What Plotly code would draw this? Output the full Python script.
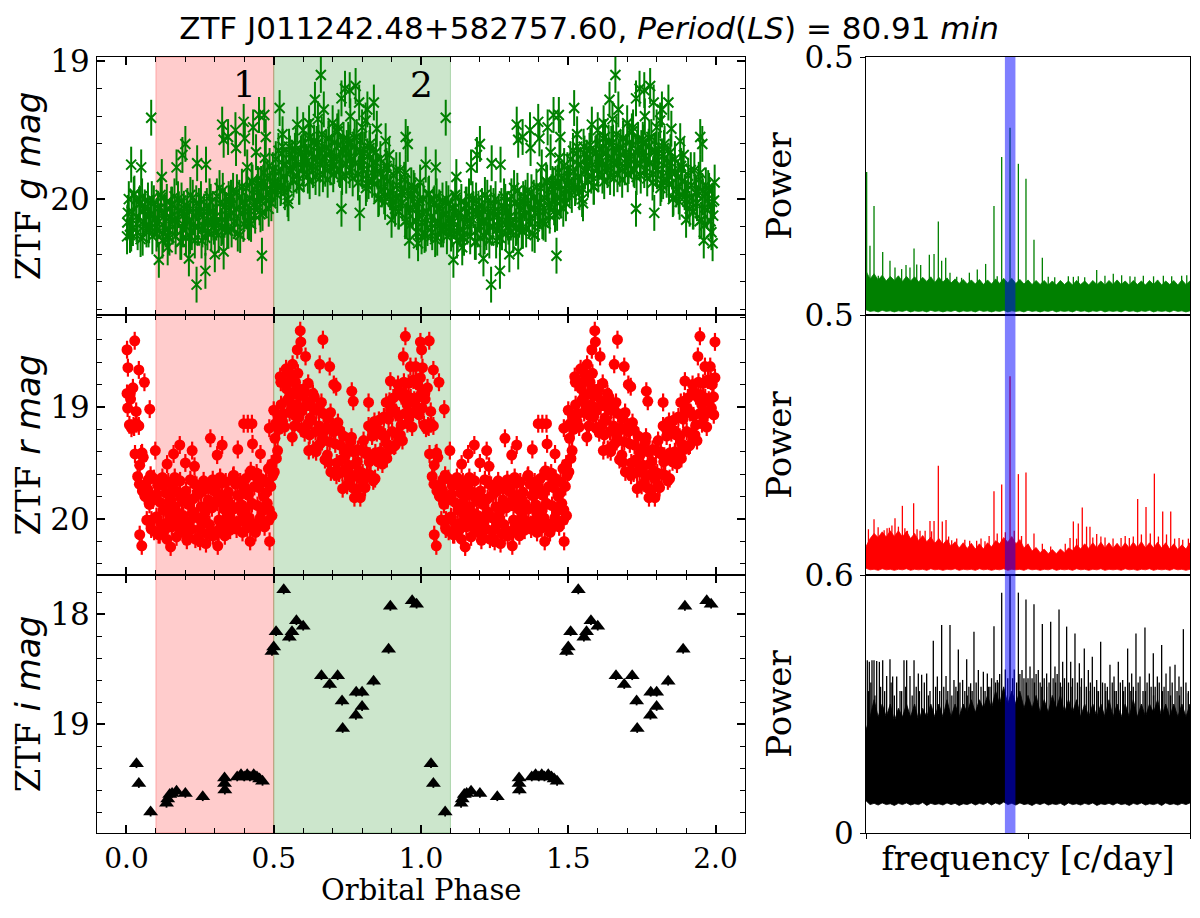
import numpy as np
import plotly.graph_objects as go

# ---------------------------------------------------------------- data
# ZTF g band: orbital phase (one cycle) and magnitude
g_phase = [
    0.003, 0.008, 0.012, 0.018, 0.022, 0.027, 0.033, 0.038, 0.043, 0.048,
    0.053, 0.057, 0.062, 0.068, 0.073, 0.077, 0.083, 0.088, 0.093, 0.098,
    0.102, 0.107, 0.112, 0.118, 0.122, 0.128, 0.133, 0.137, 0.142, 0.148,
    0.152, 0.157, 0.163, 0.167, 0.172, 0.178, 0.183, 0.187, 0.192, 0.197,
    0.202, 0.207, 0.213, 0.217, 0.222, 0.228, 0.232, 0.237, 0.243, 0.248,
    0.253, 0.258, 0.262, 0.268, 0.273, 0.277, 0.282, 0.288, 0.292, 0.297,
    0.302, 0.307, 0.313, 0.318, 0.322, 0.327, 0.333, 0.338, 0.342, 0.347,
    0.352, 0.357, 0.362, 0.367, 0.373, 0.378, 0.383, 0.387, 0.392, 0.397,
    0.402, 0.407, 0.412, 0.418, 0.423, 0.428, 0.432, 0.437, 0.443, 0.448,
    0.452, 0.457, 0.462, 0.467, 0.472, 0.478, 0.483, 0.488, 0.492, 0.497,
    0.502, 0.507, 0.512, 0.517, 0.523, 0.528, 0.533, 0.538, 0.542, 0.547,
    0.552, 0.557, 0.563, 0.567, 0.572, 0.578, 0.583, 0.587, 0.592, 0.598,
    0.602, 0.607, 0.612, 0.618, 0.622, 0.628, 0.633, 0.637, 0.642, 0.648,
    0.652, 0.657, 0.663, 0.667, 0.672, 0.678, 0.683, 0.687, 0.692, 0.697,
    0.702, 0.707, 0.713, 0.717, 0.722, 0.728, 0.732, 0.737, 0.743, 0.748,
    0.753, 0.758, 0.762, 0.768, 0.773, 0.777, 0.782, 0.788, 0.792, 0.797,
    0.802, 0.807, 0.813, 0.818, 0.822, 0.827, 0.833, 0.838, 0.842, 0.847,
    0.852, 0.857, 0.862, 0.867, 0.873, 0.878, 0.883, 0.887, 0.892, 0.897,
    0.902, 0.907, 0.912, 0.918, 0.923, 0.928, 0.932, 0.937, 0.943, 0.948,
    0.952, 0.957, 0.962, 0.967, 0.972, 0.978, 0.983, 0.988, 0.992, 0.997,
    0.005, 0.016, 0.025, 0.034, 0.046, 0.055, 0.064, 0.075, 0.086, 0.095,
    0.105, 0.116, 0.125, 0.134, 0.146, 0.155, 0.164, 0.175, 0.186, 0.195,
    0.205, 0.216, 0.225, 0.234, 0.246, 0.255, 0.264, 0.275, 0.286, 0.295,
    0.305, 0.316, 0.325, 0.334, 0.346, 0.355, 0.364, 0.375, 0.386, 0.395,
    0.405, 0.416, 0.425, 0.434, 0.446, 0.455, 0.464, 0.475, 0.486, 0.495,
    0.505, 0.516, 0.525, 0.534, 0.546, 0.555, 0.564, 0.575, 0.586, 0.595,
    0.605, 0.616, 0.625, 0.634, 0.646, 0.655, 0.664, 0.675, 0.686, 0.695,
    0.705, 0.716, 0.725, 0.734, 0.746, 0.755, 0.764, 0.775, 0.786, 0.795,
    0.805, 0.816, 0.825, 0.834, 0.846, 0.855, 0.864, 0.875, 0.886, 0.895,
    0.905, 0.916, 0.925, 0.934, 0.946, 0.955, 0.964, 0.975, 0.986, 0.995,
]
g_mag = [
    20.17, 20.00, 20.26, 20.09, 20.21, 19.96, 20.13, 20.24, 20.04, 20.29,
    19.98, 20.16, 20.06, 20.22, 20.01, 20.19, 20.11, 20.27, 20.03, 20.14,
    20.25, 20.07, 20.16, 19.99, 20.30, 20.10, 20.22, 20.02, 20.27, 20.13,
    20.04, 20.20, 19.98, 20.27, 20.14, 20.08, 20.31, 20.01, 20.22, 20.11,
    20.28, 20.05, 20.17, 19.97, 20.24, 20.12, 20.30, 20.03, 20.20, 20.09,
    20.00, 20.22, 20.12, 20.28, 20.05, 20.17, 19.98, 20.25, 20.09, 20.20,
    20.13, 19.98, 20.26, 20.03, 20.21, 19.94, 20.15, 20.08, 20.23, 20.00,
    20.03, 20.22, 19.94, 20.16, 20.07, 20.25, 19.99, 20.10, 19.91, 20.18,
    20.09, 19.92, 20.16, 19.99, 20.18, 19.88, 20.04, 20.12, 19.95, 19.90,
    20.06, 19.89, 20.10, 19.81, 19.99, 19.85, 20.07, 19.93, 20.03, 19.79,
    19.88, 19.71, 19.97, 19.80, 19.92, 19.67, 19.84, 19.95, 19.75, 20.00,
    19.62, 19.80, 19.70, 19.86, 19.65, 19.83, 19.75, 19.91, 19.67, 19.78,
    19.82, 19.64, 19.73, 19.56, 19.87, 19.67, 19.79, 19.59, 19.84, 19.70,
    19.59, 19.75, 19.53, 19.82, 19.69, 19.63, 19.86, 19.56, 19.77, 19.66,
    19.82, 19.59, 19.71, 19.51, 19.78, 19.66, 19.84, 19.57, 19.74, 19.63,
    19.57, 19.79, 19.69, 19.85, 19.62, 19.74, 19.55, 19.82, 19.66, 19.77,
    19.79, 19.64, 19.92, 19.69, 19.87, 19.60, 19.81, 19.74, 19.89, 19.66,
    19.80, 19.99, 19.71, 19.93, 19.84, 20.02, 19.76, 19.87, 19.68, 19.95,
    20.00, 19.83, 20.07, 19.90, 20.09, 19.79, 19.95, 20.03, 19.86, 19.81,
    20.15, 19.98, 20.19, 19.90, 20.08, 19.94, 20.16, 20.02, 20.12, 19.88,
    20.10, 20.25, 19.97, 20.18, 20.03, 20.28, 20.07, 20.22, 20.00, 20.15,
    20.22, 19.97, 20.25, 20.10, 20.28, 20.04, 20.15, 20.00, 20.31, 20.07,
    20.12, 20.27, 19.99, 20.20, 20.05, 20.30, 20.09, 20.24, 20.02, 20.17,
    20.17, 19.92, 20.20, 20.05, 20.23, 19.99, 20.10, 19.95, 20.26, 20.02,
    20.03, 20.17, 19.87, 20.06, 19.89, 20.11, 19.88, 20.01, 19.76, 19.89,
    19.92, 19.65, 19.91, 19.75, 19.92, 19.67, 19.77, 19.61, 19.91, 19.66,
    19.69, 19.83, 19.55, 19.76, 19.60, 19.85, 19.64, 19.78, 19.56, 19.71,
    19.76, 19.51, 19.79, 19.64, 19.83, 19.59, 19.71, 19.56, 19.88, 19.65,
    19.72, 19.89, 19.63, 19.86, 19.73, 20.00, 19.81, 19.98, 19.78, 19.95,
    20.02, 19.79, 20.09, 19.96, 20.16, 19.94, 20.06, 19.92, 20.24, 20.01,
]
g_out_phase = [
    0.016, 0.050, 0.084, 0.120, 0.170, 0.190, 0.200, 0.240, 0.270, 0.325,
    0.330, 0.345, 0.370, 0.372, 0.398, 0.402, 0.410, 0.430, 0.450, 0.468,
    0.473, 0.520, 0.530, 0.580, 0.640, 0.660, 0.670, 0.650, 0.730, 0.742,
    0.758, 0.778, 0.790, 0.818, 0.840, 0.812, 0.850, 0.948, 0.955,
    0.238, 0.268, 0.212, 0.460, 0.330, 0.730, 0.792, 0.550, 0.110, 0.002,
    0.140, 0.300, 0.900, 0.960, 0.990,
    0.600, 0.620, 0.700, 0.720, 0.760, 0.800, 0.880, 0.530, 0.470, 0.440,
]
g_out_mag = [
    19.75, 19.77, 19.41, 19.84, 19.77, 19.68, 19.60, 19.74, 19.75, 19.46,
    19.57, 19.55, 19.50, 19.63, 19.44, 19.56, 19.77, 19.48, 19.39, 19.39,
    19.55, 19.34, 19.53, 19.46, 19.28, 19.10, 19.35, 19.42, 19.27, 19.20,
    19.21, 19.18, 19.30, 19.35, 19.30, 19.43, 19.49, 19.55, 19.60,
    20.62, 20.52, 20.43, 20.41, 20.38, 20.07, 20.10, 20.03, 20.44, 20.27,
    20.35, 20.40, 20.15, 20.30, 20.32,
    19.50, 19.45, 19.45, 19.48, 19.40, 19.48, 19.58, 19.62, 19.70, 19.66,
]
g_err = 0.13

# ZTF r band
r_phase = [
    0.002, 0.005, 0.010, 0.014, 0.017, 0.022, 0.026, 0.029, 0.034, 0.038,
    0.042, 0.045, 0.050, 0.054, 0.057, 0.062, 0.066, 0.069, 0.074, 0.078,
    0.082, 0.085, 0.090, 0.094, 0.097, 0.102, 0.106, 0.109, 0.114, 0.118,
    0.122, 0.125, 0.130, 0.134, 0.137, 0.142, 0.146, 0.149, 0.154, 0.158,
    0.162, 0.165, 0.170, 0.174, 0.177, 0.182, 0.186, 0.189, 0.194, 0.198,
    0.202, 0.205, 0.210, 0.214, 0.217, 0.222, 0.226, 0.229, 0.234, 0.238,
    0.242, 0.245, 0.250, 0.254, 0.257, 0.262, 0.266, 0.269, 0.274, 0.278,
    0.282, 0.285, 0.290, 0.294, 0.297, 0.302, 0.306, 0.309, 0.314, 0.318,
    0.322, 0.325, 0.330, 0.334, 0.337, 0.342, 0.346, 0.349, 0.354, 0.358,
    0.362, 0.365, 0.370, 0.374, 0.377, 0.382, 0.386, 0.389, 0.394, 0.398,
    0.402, 0.405, 0.410, 0.414, 0.417, 0.422, 0.426, 0.429, 0.434, 0.438,
    0.442, 0.445, 0.450, 0.454, 0.457, 0.462, 0.466, 0.469, 0.474, 0.478,
    0.482, 0.485, 0.490, 0.494, 0.497, 0.502, 0.506, 0.509, 0.514, 0.518,
    0.522, 0.525, 0.530, 0.534, 0.537, 0.542, 0.546, 0.549, 0.554, 0.558,
    0.562, 0.565, 0.570, 0.574, 0.577, 0.582, 0.586, 0.589, 0.594, 0.598,
    0.602, 0.605, 0.610, 0.614, 0.617, 0.622, 0.626, 0.629, 0.634, 0.638,
    0.642, 0.645, 0.650, 0.654, 0.657, 0.662, 0.666, 0.669, 0.674, 0.678,
    0.682, 0.685, 0.690, 0.694, 0.697, 0.702, 0.706, 0.709, 0.714, 0.718,
    0.722, 0.725, 0.730, 0.734, 0.737, 0.742, 0.746, 0.749, 0.754, 0.758,
    0.762, 0.765, 0.770, 0.774, 0.777, 0.782, 0.786, 0.789, 0.794, 0.798,
    0.802, 0.805, 0.810, 0.814, 0.817, 0.822, 0.826, 0.829, 0.834, 0.838,
    0.842, 0.845, 0.850, 0.854, 0.857, 0.862, 0.866, 0.869, 0.874, 0.878,
    0.882, 0.885, 0.890, 0.894, 0.897, 0.902, 0.906, 0.909, 0.914, 0.918,
    0.922, 0.925, 0.930, 0.934, 0.937, 0.942, 0.946, 0.949, 0.954, 0.958,
    0.962, 0.965, 0.970, 0.974, 0.977, 0.982, 0.986, 0.989, 0.994, 0.998,
    0.004, 0.013, 0.024, 0.033, 0.044, 0.053, 0.064, 0.073, 0.084, 0.093,
    0.104, 0.113, 0.124, 0.133, 0.144, 0.153, 0.164, 0.173, 0.184, 0.193,
    0.204, 0.213, 0.224, 0.233, 0.244, 0.253, 0.264, 0.273, 0.284, 0.293,
    0.304, 0.313, 0.324, 0.333, 0.344, 0.353, 0.364, 0.373, 0.384, 0.393,
    0.404, 0.413, 0.424, 0.433, 0.444, 0.453, 0.464, 0.473, 0.484, 0.493,
    0.504, 0.513, 0.524, 0.533, 0.544, 0.553, 0.564, 0.573, 0.584, 0.593,
    0.604, 0.613, 0.624, 0.633, 0.644, 0.653, 0.664, 0.673, 0.684, 0.693,
    0.704, 0.713, 0.724, 0.733, 0.744, 0.753, 0.764, 0.773, 0.784, 0.793,
    0.804, 0.813, 0.824, 0.833, 0.844, 0.853, 0.864, 0.873, 0.884, 0.893,
    0.904, 0.913, 0.924, 0.933, 0.944, 0.953, 0.964, 0.973, 0.984, 0.993,
]
r_mag = [
    18.88, 18.65, 19.16, 18.93, 19.19, 18.83, 19.18, 19.42, 19.15, 19.62,
    19.17, 19.52, 19.42, 19.75, 19.45, 19.79, 19.70, 20.01, 19.65, 19.87,
    19.61, 20.01, 19.83, 20.11, 19.79, 19.98, 19.70, 20.14, 19.85, 20.05,
    19.63, 19.92, 20.10, 19.77, 20.18, 19.67, 19.96, 19.80, 20.07, 19.72,
    20.02, 19.89, 20.16, 19.76, 19.95, 19.66, 20.04, 19.84, 20.12, 19.80,
    19.75, 20.13, 19.87, 20.03, 19.65, 20.09, 19.82, 19.94, 20.18, 19.70,
    19.99, 19.78, 20.09, 19.89, 20.04, 19.66, 19.95, 19.73, 20.13, 19.83,
    20.05, 19.70, 19.90, 20.15, 19.75, 19.73, 20.11, 19.85, 20.01, 19.63,
    20.06, 19.79, 19.91, 20.15, 19.67, 19.97, 19.76, 20.07, 19.87, 20.02,
    19.62, 19.91, 19.69, 20.09, 19.79, 20.02, 19.67, 19.87, 20.12, 19.72,
    19.92, 19.64, 20.08, 19.79, 19.99, 19.57, 19.86, 20.04, 19.71, 20.12,
    19.59, 19.88, 19.72, 19.99, 19.64, 19.93, 19.80, 20.07, 19.67, 19.86,
    19.55, 19.92, 19.71, 19.97, 19.61, 19.58, 19.15, 19.46, 19.07, 19.20,
    18.73, 18.98, 19.13, 18.78, 19.18, 18.66, 18.94, 18.78, 19.05, 18.71,
    19.01, 18.89, 19.17, 18.78, 18.98, 18.70, 19.09, 18.90, 19.19, 18.88,
    18.84, 19.23, 18.99, 19.16, 18.79, 19.25, 18.99, 19.12, 19.38, 18.91,
    19.22, 19.03, 19.35, 19.17, 19.33, 18.96, 19.27, 19.06, 19.47, 19.19,
    19.43, 19.10, 19.31, 19.58, 19.19, 19.18, 19.58, 19.33, 19.50, 19.14,
    19.59, 19.34, 19.47, 19.73, 19.26, 19.58, 19.38, 19.70, 19.52, 19.68,
    19.31, 19.61, 19.40, 19.81, 19.51, 19.74, 19.38, 19.57, 19.81, 19.39,
    19.59, 19.30, 19.72, 19.42, 19.60, 19.17, 19.44, 19.61, 19.26, 19.66,
    19.13, 19.41, 19.23, 19.49, 19.12, 19.40, 19.25, 19.51, 19.09, 19.27,
    18.96, 19.33, 19.11, 19.38, 19.04, 19.22, 18.92, 19.35, 19.05, 19.24,
    18.80, 19.08, 19.25, 18.90, 19.30, 18.78, 19.06, 18.89, 19.15, 18.79,
    19.07, 18.92, 19.18, 18.76, 18.94, 18.64, 19.01, 18.80, 19.07, 18.74,
    19.01, 18.88, 19.17, 19.04, 19.69, 19.41, 19.80, 19.74, 20.09, 19.64,
    19.78, 20.14, 19.70, 20.04, 19.85, 19.93, 19.63, 20.07, 19.81, 19.97,
    20.10, 19.83, 19.95, 19.69, 20.17, 19.76, 20.01, 19.88, 20.13, 19.65,
    19.76, 20.12, 19.68, 20.02, 19.83, 19.91, 19.61, 20.05, 19.79, 19.95,
    20.03, 19.76, 19.87, 19.61, 20.08, 19.67, 19.91, 19.77, 20.01, 19.51,
    19.28, 19.39, 18.78, 19.06, 18.84, 18.91, 18.62, 19.08, 18.84, 19.04,
    19.19, 18.95, 19.10, 18.88, 19.40, 19.02, 19.31, 19.21, 19.49, 19.05,
    19.22, 19.61, 19.21, 19.58, 19.43, 19.54, 19.27, 19.73, 19.49, 19.64,
    19.70, 19.40, 19.49, 19.20, 19.64, 19.20, 19.41, 19.25, 19.46, 18.95,
    19.01, 19.34, 18.86, 19.16, 18.93, 18.98, 18.64, 19.05, 18.77, 18.91,
]
r_out_phase = [
    0.028, 0.002, 0.042, 0.061, 0.079, 0.098, 0.138, 0.160, 0.181, 0.200,
    0.223, 0.231, 0.285, 0.308, 0.325, 0.378, 0.398, 0.412, 0.426, 0.428,
    0.455, 0.485, 0.500, 0.486, 0.590, 0.592, 0.580, 0.608, 0.667, 0.656,
    0.690, 0.704, 0.712, 0.765, 0.770, 0.822, 0.896, 0.947, 0.940, 0.998,
    0.619, 0.563,
    0.150, 0.205, 0.270, 0.310, 0.340, 0.352, 0.045, 0.052, 0.420, 0.250,
]
r_out_mag = [
    18.41, 18.49, 18.67, 18.78, 19.02, 19.39, 19.51, 19.42, 19.34, 19.50,
    19.39, 19.53, 19.28, 19.43, 19.34, 19.38, 19.15, 19.15, 19.15, 19.33,
    19.42, 19.19, 19.03, 20.20, 18.32, 18.42, 18.49, 18.55, 18.40, 18.62,
    18.64, 18.80, 18.82, 18.86, 18.95, 18.96, 18.77, 18.37, 18.55, 18.42,
    19.39, 19.27,
    20.25, 20.19, 20.22, 20.24, 20.10, 20.10, 20.14, 20.24, 20.20, 20.20,
]
r_err = 0.08

# ZTF i band
i_phase = [
    0.034, 0.042, 0.082, 0.136, 0.140, 0.147, 0.155, 0.170, 0.200, 0.259,
    0.333, 0.333, 0.334, 0.376, 0.389, 0.400, 0.410, 0.419, 0.432, 0.443,
    0.452, 0.462, 0.494, 0.500, 0.508, 0.534, 0.553, 0.562, 0.577, 0.600,
    0.662, 0.690, 0.717, 0.732, 0.734, 0.779, 0.780, 0.800, 0.800, 0.839,
    0.890, 0.896, 0.970, 0.985,
]
i_mag = [
    19.36, 19.54, 19.80, 19.72, 19.68, 19.64, 19.63, 19.61, 19.63, 19.66,
    19.49, 19.54, 19.60, 19.48, 19.46, 19.48, 19.46, 19.48, 19.46, 19.48,
    19.50, 19.52, 18.34, 18.30, 18.16, 17.78, 18.21, 18.16, 18.06, 18.11,
    18.56, 18.64, 18.56, 18.79, 19.04, 18.92, 18.71, 18.71, 18.84, 18.61,
    18.32, 17.93, 17.88, 17.91,
]
i_err = 0.04

region1 = [0.1, 0.5]
region2 = [0.5, 1.1]

# Lomb-Scargle periodograms (frequency in c/day)
period_min = 80.91
band_halfwidth = 0.65

pg_freq = [0, 0.5, 1, 1.5, 2, 2.5, 3, 3.5, 4, 4.5, 5, 5.5, 6, 6.5, 7, 7.5, 8, 8.5, 9, 9.5,
           10, 10.5, 11, 11.5, 12, 12.5, 13, 13.5, 14, 14.5, 15, 15.5, 16, 16.5, 17, 17.5,
           18, 18.5, 19, 19.5, 20, 20.5, 21, 21.5, 22, 22.5, 23, 23.5, 24, 24.5, 25, 25.5,
           26, 26.5, 27, 27.5, 28, 28.5, 29, 29.5, 30, 30.5, 31, 31.5, 32, 32.5, 33, 33.5,
           34, 34.5, 35, 35.5, 36, 36.5, 37, 37.5, 38, 38.5, 39, 39.5, 40]

g_pow_lo = [0.010, 0.007, 0.008, 0.006, 0.009, 0.007, 0.008, 0.006, 0.008, 0.007,
            0.009, 0.006, 0.008, 0.007, 0.008, 0.006, 0.009, 0.007, 0.008, 0.006,
            0.008, 0.007, 0.009, 0.006, 0.008, 0.007, 0.008, 0.006, 0.009, 0.007,
            0.008, 0.006, 0.008, 0.007, 0.009, 0.006, 0.008, 0.007, 0.008, 0.006,
            0.009, 0.007, 0.008, 0.006, 0.008, 0.007, 0.009, 0.006, 0.008, 0.007,
            0.008, 0.006, 0.009, 0.007, 0.008, 0.006, 0.008, 0.007, 0.009, 0.006,
            0.008, 0.007, 0.008, 0.006, 0.009, 0.007, 0.008, 0.006, 0.008, 0.007,
            0.009, 0.006, 0.008, 0.007, 0.008, 0.006, 0.009, 0.007, 0.008, 0.006,
            0.008]
g_pow_hi = [0.085, 0.070, 0.080, 0.068, 0.077, 0.066, 0.075, 0.067, 0.076, 0.065,
            0.075, 0.066, 0.074, 0.064, 0.073, 0.065, 0.074, 0.063, 0.073, 0.064,
            0.072, 0.062, 0.070, 0.061, 0.069, 0.060, 0.068, 0.060, 0.069, 0.059,
            0.068, 0.060, 0.070, 0.061, 0.071, 0.062, 0.071, 0.061, 0.069, 0.060,
            0.068, 0.059, 0.067, 0.059, 0.067, 0.058, 0.066, 0.058, 0.067, 0.059,
            0.066, 0.058, 0.067, 0.059, 0.066, 0.058, 0.067, 0.059, 0.066, 0.058,
            0.067, 0.059, 0.068, 0.059, 0.066, 0.058, 0.067, 0.059, 0.066, 0.058,
            0.067, 0.059, 0.068, 0.058, 0.066, 0.059, 0.067, 0.058, 0.068, 0.059,
            0.066]
g_spike_f = [0.08, 0.49, 0.99, 1.52, 2.06, 2.96, 3.58, 4.40, 4.94, 5.43,
             5.93, 6.26, 6.75, 7.82, 8.40, 8.93, 9.34, 9.84, 10.37, 12.76,
             13.74, 14.77, 15.80, 16.75, 17.78, 18.81, 19.75, 20.74, 21.77, 24.98,
             26.21, 28.48, 30.53, 31.56, 32.59, 34.24, 36.71, 37.74, 38.97,
             11.2, 11.8, 16.2, 22.5, 23.3, 25.6, 27.0, 29.5, 33.2, 35.5, 39.6]
g_spike_p = [0.277, 0.134, 0.211, 0.076, 0.122, 0.105, 0.092, 0.089, 0.097, 0.092,
             0.129, 0.098, 0.097, 0.117, 0.118, 0.181, 0.105, 0.111, 0.082, 0.082,
             0.088, 0.099, 0.211, 0.306, 0.363, 0.293, 0.264, 0.146, 0.111, 0.075,
             0.075, 0.087, 0.080, 0.077, 0.075, 0.076, 0.076, 0.075, 0.076,
             0.074, 0.072, 0.075, 0.074, 0.073, 0.074, 0.073, 0.076, 0.074, 0.075, 0.077]

r_pow_lo = [0.013, 0.010, 0.011, 0.009, 0.012, 0.010, 0.011, 0.009, 0.011, 0.010,
            0.012, 0.009, 0.011, 0.010, 0.011, 0.009, 0.012, 0.010, 0.011, 0.009,
            0.011, 0.010, 0.012, 0.009, 0.011, 0.010, 0.011, 0.009, 0.012, 0.010,
            0.011, 0.009, 0.011, 0.010, 0.012, 0.009, 0.011, 0.010, 0.011, 0.009,
            0.012, 0.010, 0.011, 0.009, 0.011, 0.010, 0.012, 0.009, 0.011, 0.010,
            0.011, 0.009, 0.012, 0.010, 0.011, 0.009, 0.011, 0.010, 0.012, 0.009,
            0.011, 0.010, 0.011, 0.009, 0.012, 0.010, 0.011, 0.009, 0.011, 0.010,
            0.012, 0.009, 0.011, 0.010, 0.011, 0.009, 0.012, 0.010, 0.011, 0.009,
            0.011]
r_pow_hi = [0.055, 0.070, 0.080, 0.072, 0.083, 0.073, 0.085, 0.074, 0.085, 0.073,
            0.084, 0.070, 0.080, 0.066, 0.076, 0.064, 0.073, 0.061, 0.070, 0.059,
            0.068, 0.055, 0.064, 0.052, 0.062, 0.051, 0.061, 0.050, 0.060, 0.050,
            0.062, 0.054, 0.066, 0.060, 0.072, 0.063, 0.074, 0.060, 0.068, 0.052,
            0.060, 0.046, 0.053, 0.043, 0.050, 0.041, 0.049, 0.041, 0.050, 0.043,
            0.052, 0.047, 0.058, 0.050, 0.060, 0.051, 0.062, 0.052, 0.063, 0.052,
            0.062, 0.051, 0.061, 0.051, 0.062, 0.052, 0.063, 0.053, 0.064, 0.052,
            0.062, 0.052, 0.063, 0.052, 0.062, 0.050, 0.060, 0.049, 0.058, 0.050,
            0.062]
r_spike_f = [0.99, 2.24, 2.88, 3.58, 4.49, 5.11, 5.88, 6.67, 7.90, 8.40,
             8.93, 9.42, 9.88, 10.58, 13.66, 14.69, 15.80, 16.75, 17.78, 18.81,
             19.75, 20.74, 21.77, 25.19, 25.60, 26.21, 26.70, 27.23, 27.65, 28.48,
             29.51, 31.49, 32.51, 33.54, 34.57, 35.60, 36.63, 37.62, 38.65,
             0.3, 1.5, 2.6, 3.2, 4.0, 4.8, 6.3, 7.3, 8.1, 10.2,
             11.2, 12.2, 12.8, 14.2, 15.2, 16.2, 17.2, 18.3, 19.2, 22.8,
             24.6, 26.0, 28.0, 29.0, 30.5, 32.0, 33.0, 34.0, 35.1, 36.1,
             37.1, 38.1, 39.1, 39.8]
r_spike_p = [0.107, 0.086, 0.091, 0.109, 0.133, 0.085, 0.138, 0.085, 0.104, 0.104,
             0.210, 0.103, 0.106, 0.067, 0.066, 0.065, 0.161, 0.174, 0.382, 0.194,
             0.197, 0.080, 0.060, 0.071, 0.103, 0.099, 0.130, 0.093, 0.093, 0.079,
             0.072, 0.071, 0.071, 0.146, 0.131, 0.195, 0.122, 0.122, 0.071,
             0.088, 0.092, 0.090, 0.095, 0.093, 0.090, 0.088, 0.085, 0.084, 0.074,
             0.070, 0.068, 0.066, 0.070, 0.075, 0.080, 0.082, 0.085, 0.075, 0.055,
             0.060, 0.070, 0.072, 0.074, 0.070, 0.075, 0.074, 0.078, 0.080, 0.074,
             0.078, 0.070, 0.068, 0.070]

i_pow_lo = [0.075, 0.066, 0.069, 0.065, 0.070, 0.066, 0.068, 0.064, 0.069, 0.066,
            0.070, 0.065, 0.068, 0.066, 0.071, 0.064, 0.069, 0.066, 0.068, 0.065,
            0.070, 0.066, 0.069, 0.064, 0.068, 0.066, 0.070, 0.065, 0.069, 0.066,
            0.071, 0.065, 0.070, 0.066, 0.072, 0.066, 0.069, 0.065, 0.070, 0.066,
            0.068, 0.064, 0.069, 0.066, 0.070, 0.065, 0.068, 0.066, 0.069, 0.064,
            0.070, 0.066, 0.068, 0.065, 0.069, 0.066, 0.070, 0.064, 0.068, 0.066,
            0.069, 0.065, 0.070, 0.066, 0.068, 0.064, 0.069, 0.066, 0.070, 0.065,
            0.068, 0.066, 0.069, 0.064, 0.070, 0.066, 0.068, 0.065, 0.069, 0.066,
            0.070]
i_pow_hi = [0.24, 0.27, 0.31, 0.27, 0.30, 0.27, 0.30, 0.26, 0.29, 0.27,
            0.30, 0.27, 0.30, 0.26, 0.29, 0.27, 0.30, 0.27, 0.30, 0.27,
            0.31, 0.27, 0.30, 0.27, 0.30, 0.28, 0.31, 0.28, 0.31, 0.29,
            0.32, 0.29, 0.33, 0.30, 0.34, 0.30, 0.33, 0.30, 0.33, 0.29,
            0.32, 0.29, 0.32, 0.28, 0.31, 0.28, 0.32, 0.29, 0.32, 0.28,
            0.31, 0.28, 0.31, 0.27, 0.30, 0.27, 0.30, 0.27, 0.30, 0.27,
            0.31, 0.27, 0.30, 0.27, 0.30, 0.27, 0.31, 0.27, 0.30, 0.27,
            0.30, 0.28, 0.31, 0.27, 0.30, 0.27, 0.30, 0.27, 0.30, 0.27,
            0.30]
i_spike_f = [0.16, 0.41, 0.74, 0.99, 1.32, 1.65, 2.06, 2.55, 2.96, 3.29,
             3.79, 4.69, 5.02, 5.43, 5.93, 6.46, 6.87, 7.49, 8.31, 8.81,
             9.34, 9.88, 10.37, 10.86, 11.40, 11.93, 12.43, 12.92, 13.33, 13.87,
             14.49, 14.98, 15.80, 16.21, 16.75, 17.78, 18.81, 19.26, 19.75, 20.25,
             20.74, 21.27, 21.77, 22.30, 22.80, 23.33, 23.83, 24.28, 24.77, 25.27,
             25.80, 26.34, 26.95, 27.45, 27.94, 28.48, 28.97, 29.51, 30.12, 30.62,
             31.15, 31.69, 32.30, 32.80, 33.33, 33.83, 34.44, 34.98, 35.47, 35.97,
             36.50, 37.04, 37.53, 38.15, 38.64, 39.18, 39.79]
i_spike_p = [0.402, 0.398, 0.402, 0.402, 0.400, 0.398, 0.402, 0.365, 0.404, 0.364,
             0.364, 0.402, 0.402, 0.365, 0.402, 0.371, 0.368, 0.371, 0.447, 0.364,
             0.484, 0.365, 0.484, 0.356, 0.427, 0.356, 0.404, 0.348, 0.468, 0.379,
             0.375, 0.371, 0.481, 0.356, 0.559, 0.600, 0.559, 0.379, 0.543, 0.387,
             0.532, 0.379, 0.486, 0.371, 0.491, 0.387, 0.520, 0.398, 0.480, 0.398,
             0.464, 0.395, 0.429, 0.379, 0.410, 0.356, 0.445, 0.348, 0.391, 0.364,
             0.398, 0.356, 0.429, 0.371, 0.464, 0.364, 0.478, 0.371, 0.418, 0.364,
             0.437, 0.371, 0.387, 0.391, 0.364, 0.474, 0.325]
i_grass_f = [0.6, 1.8, 3.1, 4.2, 4.9, 6.2, 7.2, 7.9, 8.6, 9.6,
             10.1, 11.1, 11.6, 12.2, 12.7, 13.6, 14.2, 15.3, 15.5, 16.0,
             16.5, 17.2, 18.3, 19.0, 19.5, 20.0, 20.5, 21.0, 21.5, 22.0,
             22.6, 23.1, 23.6, 24.0, 24.5, 25.0, 25.5, 26.1, 26.6, 27.2,
             27.7, 28.2, 28.7, 29.2, 29.8, 30.4, 30.9, 31.4, 32.0, 32.5,
             33.0, 33.6, 34.2, 34.7, 35.2, 35.7, 36.2, 36.8, 37.3, 37.8,
             38.4, 38.9, 39.5,
             0.3, 1.1, 2.3, 3.5, 4.4, 5.7, 6.6, 7.7, 9.1, 10.6,
             11.3, 12.5, 13.1, 14.7, 15.1, 16.3, 17.5, 18.1, 18.6, 19.8,
             20.8, 21.7, 22.3, 23.4, 24.2, 25.3, 26.4, 27.5, 28.5, 29.6,
             30.7, 31.8, 32.7, 33.3, 34.5, 35.5, 36.6, 37.6, 38.7, 39.8]
i_grass_p = [0.35, 0.34, 0.35, 0.33, 0.34, 0.34, 0.35, 0.33, 0.34, 0.34,
             0.33, 0.34, 0.35, 0.33, 0.34, 0.35, 0.34, 0.34, 0.36, 0.35,
             0.37, 0.38, 0.38, 0.37, 0.36, 0.36, 0.36, 0.37, 0.35, 0.36,
             0.35, 0.36, 0.37, 0.35, 0.36, 0.35, 0.36, 0.35, 0.36, 0.34,
             0.35, 0.34, 0.33, 0.35, 0.34, 0.35, 0.33, 0.35, 0.34, 0.35,
             0.34, 0.35, 0.33, 0.35, 0.34, 0.34, 0.35, 0.34, 0.33, 0.35,
             0.33, 0.34, 0.35,
             0.33, 0.32, 0.33, 0.32, 0.33, 0.32, 0.33, 0.32, 0.33, 0.32,
             0.33, 0.32, 0.33, 0.33, 0.34, 0.35, 0.36, 0.36, 0.35, 0.35,
             0.35, 0.34, 0.34, 0.35, 0.34, 0.34, 0.34, 0.33, 0.33, 0.33,
             0.33, 0.33, 0.33, 0.33, 0.33, 0.32, 0.33, 0.32, 0.32, 0.33]

# ---------------------------------------------------------------- layout helpers
# The page body keeps the browser's default 8px margin, so the figure is made
# 16px smaller than the window and positions below are given in window pixels.
PAGE_OFF = 8
W, H = 1200 - 2 * PAGE_OFF, 918 - 2 * PAGE_OFF
SERIF = "DejaVu Serif"
SANS = "DejaVu Sans"
LEFT_PX = (97, 745)
RIGHT_PX = (866, 1190)
ROWS_PX = [(57, 315), (315, 575), (575, 833)]


def xdom(px):
    return [(px[0] - PAGE_OFF) / W, (px[1] - PAGE_OFF) / W]


def ydom(px):
    return [1 - (px[1] - PAGE_OFF) / H, 1 - (px[0] - PAGE_OFF) / H]


def two_cycles(phase):
    ph = np.asarray(phase, dtype=float)
    return np.concatenate([ph, ph + 1.0])


def spike_xy(freqs, powers, base):
    xs, ys = [], []
    for f, p in zip(freqs, powers):
        xs += [f, f, None]
        ys += [base, p, None]
    return xs, ys


fig = go.Figure()

# ---- light curves (left column: axes 1=g, 2=r, 3=i)
lc = [
    ("g", g_phase + g_out_phase, g_mag + g_out_mag, g_err, "green",
     dict(symbol="x-thin", size=10, line=dict(width=2, color="green"), color="green"), 2.0),
    ("r", r_phase + r_out_phase, r_mag + r_out_mag, r_err, "red",
     dict(symbol="circle", size=11, color="red", line=dict(width=0)), 2.2),
    ("i", i_phase, i_mag, i_err, "black",
     dict(symbol="triangle-up", size=13, color="black", line=dict(width=0)), 1.8),
]
for k, (name, ph, mag, err, col, marker, thick) in enumerate(lc, start=1):
    mags = np.asarray(mag, dtype=float)
    fig.add_trace(go.Scatter(
        x=two_cycles(ph), y=np.concatenate([mags, mags]),
        mode="markers", marker=marker,
        error_y=dict(type="constant", value=err, thickness=thick, width=0, color=col),
        xaxis=f"x{k}" if k > 1 else "x", yaxis=f"y{k}" if k > 1 else "y",
        showlegend=False, name=name,
    ))

# ---- periodograms (right column: axes 4, 5, 6)
pgs = [
    (4, g_pow_lo, g_pow_hi, [(g_spike_f, g_spike_p)], "green", 0.03),
    (5, r_pow_lo, r_pow_hi, [(r_spike_f, r_spike_p)], "red", 0.03),
    (6, i_pow_lo, i_pow_hi, [(i_spike_f, i_spike_p), (i_grass_f, i_grass_p)], "black", 0.15),
]
for k, lo, hi, spikes, col, base in pgs:
    fig.add_trace(go.Scatter(
        x=pg_freq + pg_freq[::-1], y=hi + lo[::-1],
        fill="toself", fillcolor=col, mode="lines", line=dict(color=col, width=0.8),
        xaxis=f"x{k}", yaxis=f"y{k}", showlegend=False, hoverinfo="skip",
    ))
    for sf, sp in spikes:
        xs, ys = spike_xy(sf, sp, base)
        fig.add_trace(go.Scatter(
            x=xs, y=ys, mode="lines", line=dict(color=col, width=1.3),
            xaxis=f"x{k}", yaxis=f"y{k}", showlegend=False, hoverinfo="skip",
        ))

# ---- axes
tickfont = dict(family=SERIF, size=31, color="black")
common = dict(showline=True, linecolor="black", linewidth=1.2, showgrid=False,
              zeroline=False, tickcolor="black", tickfont=tickfont, automargin=False)

y_ranges = [(20.84, 18.97), (20.5, 18.18), (19.99, 17.645)]
y_titles = ["g mag", "r mag", "i mag"]
layout = {}
for k in range(1, 4):
    xa = "xaxis" if k == 1 else f"xaxis{k}"
    ya = "yaxis" if k == 1 else f"yaxis{k}"
    yref = "y" if k == 1 else f"y{k}"
    xref = "x" if k == 1 else f"x{k}"
    layout[xa] = dict(
        common, domain=xdom(LEFT_PX), anchor=yref, range=[-0.1, 2.1],
        tick0=0, dtick=0.5, tickformat=".1f", ticks="inside", ticklen=8, tickwidth=1.5,
        minor=dict(dtick=0.1, ticks="inside", ticklen=5, tickwidth=1.2, tickcolor="black"),
        mirror="ticks", showticklabels=(k == 3),
    )
    layout[ya] = dict(
        common, domain=ydom(ROWS_PX[k - 1]), anchor=xref, range=list(y_ranges[k - 1]),
        tick0=0, dtick=1, ticks="inside", ticklen=8, tickwidth=1.5,
        minor=dict(dtick=0.2, ticks="inside", ticklen=5, tickwidth=1.2, tickcolor="black"),
        mirror="ticks",
        title=dict(
            text=f"ZTF <span style=\"font-family:'{SANS}'\"><i>{y_titles[k - 1]}</i></span>",
            font=dict(family=SERIF, size=34, color="black"), standoff=10),
    )
layout["xaxis3"]["tickfont"] = dict(family=SERIF, size=28, color="black")

pg_yr = [(0, 0.5), (0, 0.5), (0, 0.6)]
pg_ticks = [([0.5], ["0.5"]), ([0.5], ["0.5"]), ([0, 0.6], ["0", "0.6"])]
for j, k in enumerate((4, 5, 6)):
    layout[f"xaxis{k}"] = dict(
        common, domain=xdom(RIGHT_PX), anchor=f"y{k}", range=[0, 40],
        tickvals=[0, 20, 40], ticks="outside" if k == 6 else "", ticklen=5, tickwidth=1.2,
        showticklabels=False, mirror=True,
    )
    layout[f"yaxis{k}"] = dict(
        common, domain=ydom(ROWS_PX[j]), anchor=f"x{k}", range=list(pg_yr[j]),
        tickvals=pg_ticks[j][0], ticktext=pg_ticks[j][1], ticks="outside", ticklen=5,
        tickwidth=1.2, mirror=True,
        title=dict(text="Power", font=dict(family=SERIF, size=34, color="black"), standoff=2),
    )
layout["xaxis6"]["title"] = dict(text="frequency [c/day]", font=dict(family=SERIF, size=33, color="black"),
                                 standoff=8)

# ---- shaded phase regions and best-period marker
shapes = []
for k in range(1, 4):
    xref = "x" if k == 1 else f"x{k}"
    yref = "y domain" if k == 1 else f"y{k} domain"
    for (a, b), fc, lc_ in ((region1, "rgba(255,0,0,0.2)", "rgba(255,0,0,0.25)"),
                            (region2, "rgba(0,128,0,0.2)", "rgba(0,128,0,0.25)")):
        shapes.append(dict(type="rect", xref=xref, yref=yref, x0=a, x1=b, y0=0, y1=1,
                           fillcolor=fc, line=dict(color=lc_, width=1), layer="below"))
f_best = 1440.0 / period_min
for k in (4, 5, 6):
    shapes.append(dict(type="rect", xref=f"x{k}", yref=f"y{k} domain",
                       x0=f_best - band_halfwidth, x1=f_best + band_halfwidth, y0=0, y1=1,
                       fillcolor="rgba(0,0,255,0.5)", line=dict(width=0), layer="above"))

left_dom = xdom(LEFT_PX)
annotations = [
    dict(x=(region1[0] + region1[1]) / 2 + 0.1, y=19.17, xref="x", yref="y", text="1",
         showarrow=False, font=dict(family=SERIF, size=36, color="black")),
    dict(x=region2[1] - 0.1, y=19.17, xref="x", yref="y", text="2",
         showarrow=False, font=dict(family=SERIF, size=36, color="black")),
    # x-axis title of the light-curve column, placed explicitly under the tick labels
    dict(x=(left_dom[0] + left_dom[1]) / 2, y=1 - (871 - PAGE_OFF) / H,
         xref="paper", yref="paper", xanchor="center", yanchor="top",
         text="Orbital Phase", showarrow=False,
         font=dict(family=SERIF, size=29, color="black")),
]

fig.update_layout(
    width=W, height=H,
    margin=dict(l=0, r=0, t=0, b=0, pad=0),
    paper_bgcolor="white", plot_bgcolor="white",
    title=dict(
        text="ZTF J011242.48+582757.60, <i>Period</i>(<i>LS</i>) = 80.91 <i>min</i>",
        font=dict(family=SANS, size=31, color="black"),
        x=(589 - PAGE_OFF) / W, xanchor="center", y=1 - (28 - PAGE_OFF) / H,
        yanchor="middle", yref="container", automargin=False,
    ),
    shapes=shapes, annotations=annotations,
    **layout,
)

fig.write_html("out.html")
